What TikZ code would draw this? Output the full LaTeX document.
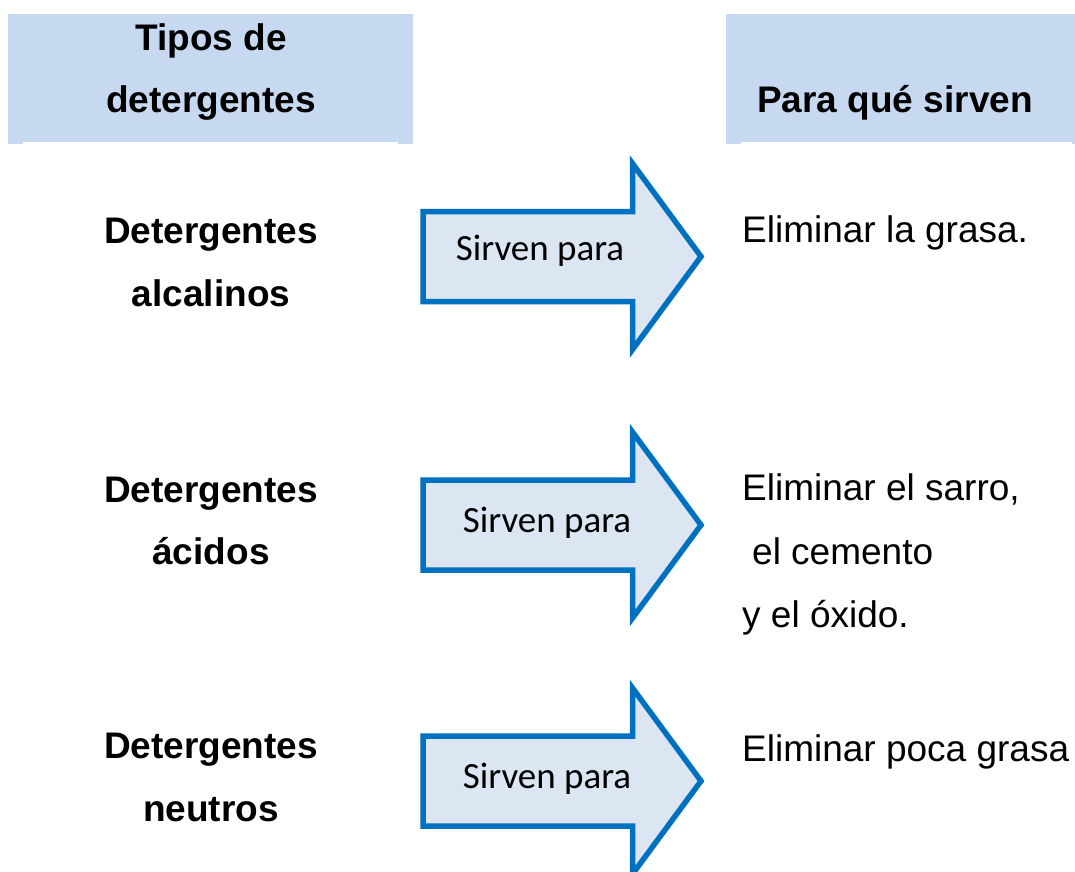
\documentclass[tikz,border=0pt]{standalone}
\usepackage{fontspec}
\setmainfont{Liberation Sans}
\newfontfamily\calibfont{Carlito}
\definecolor{hdr}{RGB}{198,217,241}
\definecolor{arfill}{RGB}{220,230,242}
\definecolor{arline}{RGB}{0,112,192}
\begin{document}
\begin{tikzpicture}[x=1pt,y=-1pt,
  hdrtxt/.style={font=\fontsize{37}{44}\selectfont\bfseries, inner sep=0pt, anchor=base},
  bodytxt/.style={font=\fontsize{37}{44}\selectfont, inner sep=0pt, anchor=base west},
  lbltxt/.style={font=\calibfont\fontsize{37}{44}\selectfont, inner sep=0pt, anchor=base},
  arrowshape/.style={draw=arline, fill=arfill, line width=5.5pt, miter limit=10, line join=miter}]
\useasboundingbox (0,0) rectangle (1075,871);
% header boxes
\fill[hdr] (8,14) rectangle (413,143.5);
\fill[white] (23,141.8) rectangle (398,144);
\fill[hdr] (726,14) rectangle (1075,143.5);
\fill[white] (741,141.8) rectangle (1072,144);
\node[hdrtxt] (h1a) at (211,50) {Tipos de};
\node[hdrtxt] (h1b) at (211,112) {detergentes};
\node[hdrtxt] (h2) at (895,112.5) {Para qué sirven};
% arrows
\newcommand{\sirvearrow}[1]{%
  \draw[arrowshape] (423,#1-45) -- (632.5,#1-45) -- (632.5,#1-93) -- (701,#1)
    -- (632.5,#1+93) -- (632.5,#1+45) -- (423,#1+45) -- cycle;}
\sirvearrow{256.5}
\sirvearrow{525}
\sirvearrow{781}
\node[lbltxt] (s1) at (540,260) {Sirven para};
\node[lbltxt] (s2) at (547,532.5) {Sirven para};
\node[lbltxt] (s3) at (547,788) {Sirven para};
% left column
\node[hdrtxt] (l1a) at (211,243) {Detergentes};
\node[hdrtxt] (l1b) at (211,306) {alcalinos};
\node[hdrtxt] (l2a) at (211,502) {Detergentes};
\node[hdrtxt] (l2b) at (211,564) {ácidos};
\node[hdrtxt] (l3a) at (211,758) {Detergentes};
\node[hdrtxt] (l3b) at (211,821) {neutros};
% right column
\node[bodytxt] (r1) at (742,242) {Eliminar la grasa.};
\node[bodytxt] (r2a) at (742,500) {Eliminar el sarro,};
\node[bodytxt] (r2b) at (752,564) {el cemento};
\node[bodytxt] (r2c) at (742,627) {y el óxido.};
\node[bodytxt] (r3) at (742,761.5) {Eliminar poca grasa};
\end{tikzpicture}
\end{document}
